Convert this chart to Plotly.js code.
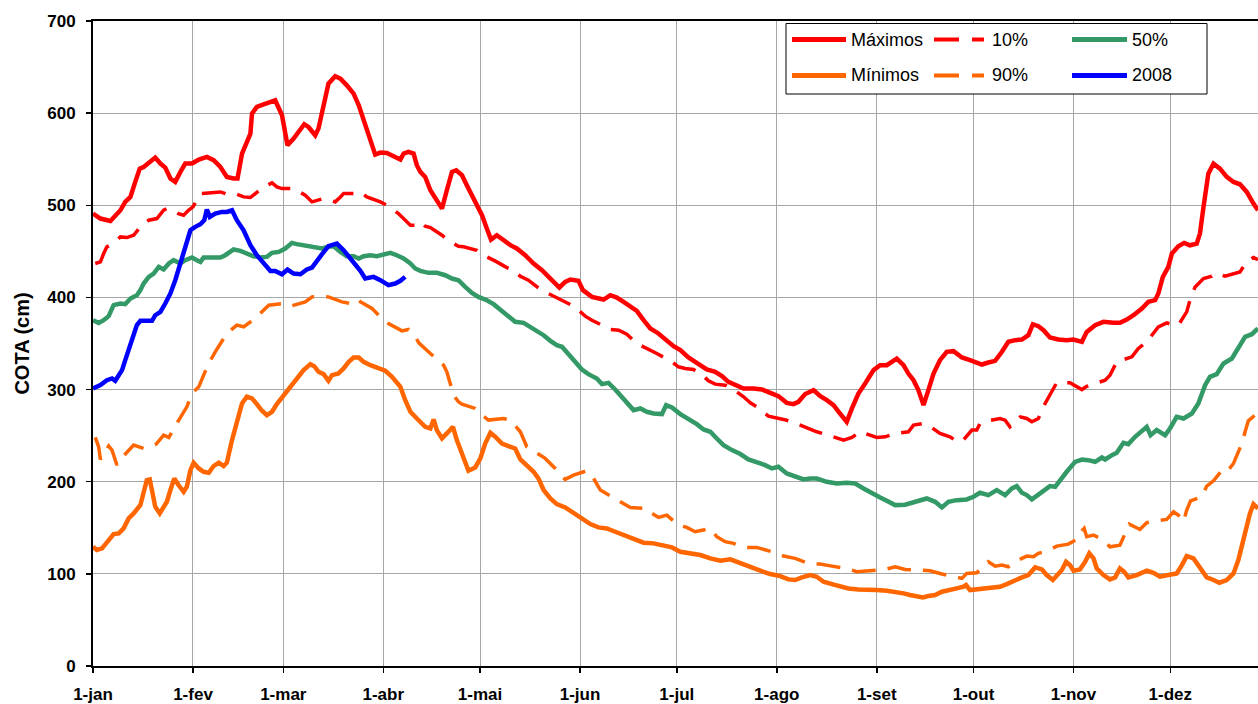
<!DOCTYPE html>
<html>
<head>
<meta charset="utf-8">
<script src="https://cdn.plot.ly/plotly-3.0.1.min.js"></script>
<style>
html,body{margin:0;padding:0;background:#fff;overflow:hidden;}
#chart{width:1258px;height:704px;}
</style>
</head>
<body>
<div id="chart"></div>
<script>
// ---- tick labels (day of year) ----
var tickDays = [0, 31, 59, 90, 120, 151, 181, 212, 243, 273, 304, 334];
var tickLabels = ['1-jan','1-fev','1-mar','1-abr','1-mai','1-jun','1-jul','1-ago','1-set','1-out','1-nov','1-dez'];

// ---- Máximos ----
var maxDays = [0,2.3,5.4,6.9,8.5,10.0,11.6,13.1,14.5,15.7,17.3,19.3,20.9,22.4,24.0,25.5,27.1,28.6,30.7,32.8,35.3,37.4,39.5,41.5,43.6,44.8,46.2,47.7,48.8,49.3,50.8,52.9,55.0,56.5,58.6,60.3,62.2,63.8,65.5,66.8,68.9,69.9,71.5,73.0,75.1,76.7,78.7,80.8,82.4,84.4,86.0,87.5,89.1,91.1,93.2,95.3,96.3,97.8,99.4,100.4,101.5,103.0,104.6,106.1,108.2,109.7,111.3,112.6,114.4,115.9,117.5,119.0,120.6,122.1,123.4,125.2,127.3,129.4,131.4,134.0,136.6,139.2,141.8,144.6,146.4,148.0,150.5,151.9,154.7,156.7,158.3,160.4,162.4,164.5,166.6,168.6,170.7,172.8,175.3,177.9,180.0,182.1,184.6,186.7,188.8,190.3,192.9,195.0,197.0,199.6,201.7,204.8,207.4,210.0,212.5,215.1,217.2,218.7,220.8,223.4,225.4,227.5,229.6,231.6,233.7,235.3,237.3,239.4,242.0,244.0,246.1,249.2,251.3,252.8,254.4,255.9,257.5,259.0,260.6,262.6,264.7,266.8,269.4,271.9,275.6,277.6,279.7,281.8,283.8,285.9,288.0,290.0,291.4,293.1,294.7,296.7,299.3,301.9,304.0,306.6,308.1,310.7,313.3,316.4,318.4,320.5,322.6,325.2,327.2,329.3,330.3,331.7,333.4,334.5,336.5,338.3,340.1,342.2,343.2,344.3,345.8,347.4,349.4,351.5,353.6,355.6,357.7,359.8,361.2];
var maxVals = [491,485.6,483,489.2,494.6,503.7,509,525.4,539.8,541.6,546,551.8,545.3,540.9,529,525.4,536.2,545.3,545.3,549.6,552.5,548.9,541.6,530.8,529,529,556.1,568.8,577.8,599.5,606.7,609.6,612.1,613.9,597.7,565.1,572.4,579.6,588,585,576,583.2,610.3,632,640,637.4,630.2,621.2,608.5,588.6,570.6,555,557.2,556.8,553.2,549.6,556.1,557.9,556.1,543.5,536.2,530.8,516.3,507.3,496.4,516.3,536.2,538,532.6,521.7,510.9,501.9,489.2,474.7,462.8,467.5,462.1,456.7,453.1,445.8,436.8,429.6,420.5,410.8,416.9,419.4,418,407.9,400.6,398.8,397.7,402.4,399.9,395.2,389.8,385.4,375.3,366.3,360.9,352.9,347.1,342.8,334.8,330.1,324.7,321.8,319.3,314.6,308.4,304.8,301.2,301.2,300.1,296.5,292.9,285.6,284.2,286.7,295.1,299.4,293,288.5,283.1,274.0,265.0,279.5,295.7,306.6,321.1,326.5,326.5,333.7,326.5,317.4,310.2,299.4,283.1,299.4,317.4,331.9,341.0,341.7,334.8,331.9,327.2,329.4,331.2,341.0,351.8,353.6,354.3,359.0,370.9,368.8,364.4,356.5,354.3,353.6,354.3,351.8,362.6,369.9,373.5,372.4,372.4,376.0,380.7,388.0,395.2,397.0,404.2,422.3,433.1,447.6,455.6,459.2,456.6,458.4,469.3,498.2,534.4,545.2,539.8,530.8,525.3,522.8,514.5,501.8,494.6];

// ---- 10% ----
var p10Days = [0.7,2.3,3.3,4.3,6.4,8.5,10.5,12.6,14.7,17.3,19.8,21.9,22.9,25.0,26.5,28.1,29.6,31.0,33.3,35.3,37.4,39.5,42.6,44.6,46.7,48.8,52.9,55.5,57.0,58.6,62.2,64.3,65.8,67.9,71.5,73.6,75.1,76.7,77.7,80.8,82.9,84.9,89.1,91.1,93.2,94.7,98.4,99.9,101.5,103.0,104.6,108.2,110.8,113.3,114.9,119.0,121.1,123.2,125.2,128.3,130.4,132.5,135.0,138.7,141.2,143.3,145.4,149.0,151.1,152.6,154.7,158.8,160.4,163.0,165.5,168.6,170.7,172.8,174.8,179.5,181.5,183.6,186.2,189.3,190.8,192.9,196.0,199.6,201.7,203.8,205.8,209.4,212.0,214.1,216.7,220.8,224.4,228.0,232.7,235.3,237.8,243.0,245.6,248.7,252.8,254.4,257.5,259.0,262.6,265.7,267.3,269.4,272.5,274.0,275.0,276.1,278.7,281.2,282.8,284.3,287.5,289.5,291.1,293.1,295.2,296.7,298.8,302.9,305.0,306.6,308.1,313.8,315.3,317.4,322.1,324.1,326.7,330.3,332.9,335.0,336.5,339.1,340.1,341.7,344.3,346.9,348.4,351.0,355.6,357.7,359.8,361.2];
var p10Vals = [436.8,438.6,447.6,454.9,458.5,465.7,465,467.5,476.6,483.8,485.6,494.6,496.4,494.6,491,489.2,494.6,498.3,512.7,513.4,513.4,514.5,510.9,512,509.1,508.4,519.9,524.3,519.9,518.1,518.1,514.5,510.9,503.7,507.3,505.5,503.7,509.1,512.7,512.7,514.5,509.1,503.7,500.1,494.6,491,478.4,478.4,482,477.3,475.8,467.5,460.3,455.6,454.9,451.2,445.8,442.2,438.6,432.4,429.6,423.0,418.7,408.6,404.2,400.6,397.0,390.5,384.4,379.7,375.3,368.1,365.2,364.5,360.1,350.0,346.4,343.5,339.2,330.1,324.7,322.9,321.8,314.6,309.5,305.9,304.8,297.6,292.2,285.6,281.3,271.2,269.7,267.6,265.0,259.6,254.2,250.5,245.1,248.0,254.2,248.0,248.7,252.4,254.2,261.4,263.2,261.4,252.4,248.7,245.1,243.3,256.0,256.0,263.2,265.0,266.8,268.6,266.8,259.6,270.4,268.6,265.0,268.6,284.9,293.9,307.5,307.5,303,300,303.5,310.2,315.6,330.1,335.5,344.6,351.8,368.1,372.4,369.9,369.9,384.3,397.0,411.4,420.5,423.0,426.6,423.0,427.7,438.6,443.3,441.1];

// ---- 50% ----
var p50Days = [0,1.75,3.3,4.85,6.4,8.5,10.0,11.6,13.6,14.7,15.7,17.3,18.8,20.4,21.9,23.5,25.0,27.1,28.6,30.7,32.2,33.3,34.3,36.4,39.5,41.0,43.6,45.7,47.7,49.8,51.9,53.9,55.5,57.6,59.6,61.7,63.2,65.3,66.8,68.9,71.0,73.0,74.6,76.7,78.7,80.8,82.4,83.9,86.0,88.0,90.1,92.2,94.2,96.3,98.4,99.9,101.5,104.0,106.6,109.2,111.3,113.3,115.4,117.5,119.5,122.1,124.2,126.3,128.8,130.9,133.5,135.6,137.6,139.7,141.8,143.8,145.4,147.4,149.5,151.6,153.6,156.2,157.8,159.8,161.9,164.0,166.0,167.6,169.7,171.7,173.8,176.4,177.7,179.5,182.1,185.2,187.2,189.3,191.4,193.4,195.5,198.1,200.7,203.2,205.8,208.4,210.5,212.5,215.1,217.7,220.3,222.4,224.4,227.5,230.6,233.7,236.3,238.9,241.5,244.05,246.1,248.7,251.8,254.9,258.5,261.1,263.2,265.2,267.8,270.9,273.0,275.0,277.6,280.2,282.8,284.9,286.4,288.0,289.5,291.1,293.1,295.2,296.7,298.3,299.8,301.9,304.5,306.6,308.6,310.7,312.8,313.8,315.9,317.4,319.5,321.0,323.1,325.2,326.7,327.9,329.8,332.4,333.9,336.0,338.1,340.7,342.7,344.8,346.3,348.4,350.5,353.1,355.1,357.2,359.3,361.2];
var p50Vals = [375.3,372.4,375.3,379.7,391.6,393.4,392.7,398.8,402.4,407.9,415.1,422.3,425.9,433.2,430.3,436.8,440.4,436.8,440.4,443.3,440.4,438.6,443.3,443.3,443.3,445.8,452,450.5,447.6,444.7,443.3,444,448.4,449.4,453.1,459.2,457.8,456.7,454.9,454.9,453.1,454.9,455.6,449.4,444.7,444.7,442.2,444.7,445.8,444.7,446.9,448.4,445.8,442.2,436.8,431.4,428.8,426.7,426.7,424.1,420.5,418.7,411.5,405.0,400.6,397.0,392.7,386.9,380.7,373.5,372.4,368.1,364.5,359.0,352.9,348.2,346.4,338.4,329.0,321.8,316.7,312.0,305.9,307.3,300.1,291.4,283.1,277.7,279.5,275.9,274.1,273.4,283.1,280.6,273.4,267.6,262.5,256.7,254.2,246.9,239.7,234.3,230.0,224.2,221.7,218.0,214.4,216.2,209.0,205.4,202.5,203.6,203.5,199.9,198.1,198.8,198.1,192.7,187.3,182.9,179.3,174.6,175.0,178.2,181.8,178.2,172.1,178.2,180.0,180.8,183.7,188.0,185.5,190.9,185.5,192.7,195.2,188.0,185.5,180.8,185.5,190.9,195.2,194.5,201.7,210.8,221.6,224.1,223.4,221.6,226.3,224.1,228.8,231.4,242.2,240.8,248.7,255.2,259.6,250.5,256.0,250.5,257.8,270.4,268.6,274.0,284.9,304.8,313.8,316.7,328.3,333.7,346.4,357.2,360.1,366.3];

// ---- 90% ----
var p90Days = [0.7,1.75,2.3,4.85,5.9,7.4,9.7,12.6,15.7,19.6,21.9,23.5,26.0,29.1,30.7,32.8,34.3,35.9,37.9,41.5,44.6,46.7,48.8,50.8,54.5,57.0,59.1,61.2,65.8,67.9,70.5,73.0,77.2,79.8,81.8,82.9,86.5,89.1,91.6,95.8,97.8,99.4,101.0,104.6,106.6,108.7,109.7,110.8,111.8,113.3,114.4,118.5,120.6,122.6,124.2,127.3,129.4,130.9,132.5,134.5,136.1,138.1,140.2,143.3,144.9,146.4,149.0,153.1,155.2,157.3,160.9,163.5,166.6,171.7,173.3,175.3,177.9,181.5,184.1,186.7,191.4,193.4,196.0,198.6,199.6,202.7,205.8,210.5,214.1,217.7,221.8,225.4,229.1,233.7,236.8,240.9,245.6,248.7,251.8,255.9,259.5,263.2,267.3,269.4,270.9,274.0,277.6,279.7,281.8,283.8,286.9,289.5,291.6,293.1,296.5,298.8,302.4,305.5,306.6,307.3,308.1,310.2,312.8,315.3,318.4,320.0,321.3,324.6,326.7,328.2,331.4,332.9,335.0,336.5,338.1,339.1,340.3,343.8,345.3,347.4,350.5,352.0,353.6,354.6,356.2,357.2,358.2,361.2];
var p90Vals = [248.1,237.9,224.2,238.7,234.3,218.1,228.9,239.8,236.1,240.8,250.6,248.1,263.3,281.3,295.8,303,315.7,328.3,341,360.9,369.9,368.1,373.5,379,391.6,392.7,393.4,390.5,395.2,400.6,401.4,400.6,395.2,393.4,398.1,395.2,388,379,371.7,363.7,365.2,360.9,350.7,339.2,332.6,326.5,319.3,304.8,294.0,286.7,284.2,279.5,272.3,266.9,267.6,268.6,266.9,261.4,254.2,237.9,233.6,230.0,225.3,214.4,207.2,202.5,207.2,211.9,203.6,191.0,183.0,178.3,172.1,171.0,165.6,161.3,163.8,153.0,150.4,145.7,149.3,140.3,134.9,133.1,131.3,128.7,128.7,124.0,119.3,116.8,111.3,110.6,108.4,105.9,102.3,103.4,104.8,107.7,104.8,104.1,103.4,99.8,96.2,95.1,100.5,101.2,113.1,108.4,109.5,107.7,114.9,119.3,118.6,122.2,125.8,130.1,132.3,138.5,146.8,149.3,140.3,142.1,137.4,129.4,131.2,143.2,154.0,148.2,155.5,156.5,158.3,159.1,167.4,163.8,156.5,169.2,179.3,183.6,195.2,201.0,214.4,212.6,219.8,227.8,241.5,254.2,266.1,275];

// ---- Mínimos ----
var minDays = [0,1.2,2.8,4.3,6.4,8.0,9.5,11.05,12.6,14.7,15.7,16.7,17.6,18.3,19.3,20.7,21.9,22.9,24.0,25.2,26.5,28.1,29.1,30.2,31.2,32.8,34.3,35.9,37.4,39.0,40.5,41.5,43.1,44.6,46.2,47.7,49.3,50.8,52.4,53.9,55.5,57.0,59.1,61.2,63.2,65.3,67.4,68.6,69.9,71.5,73.0,74.1,76.1,77.7,79.3,80.8,82.4,83.9,86.0,88.0,90.6,92.7,94.2,95.3,96.8,98.4,100.4,103.0,104.6,105.6,106.6,108.2,109.7,111.6,112.8,114.4,116.4,118.5,120.1,121.6,123.2,124.7,126.8,128.8,130.9,132.5,134.5,136.6,138.1,139.7,141.8,143.8,146.4,149.0,151.6,154.2,156.7,159.3,161.9,164.5,167.6,170.7,173.8,176.9,179.5,182.1,185.2,188.3,191.4,194.5,197.6,200.7,203.8,206.9,210.0,213.1,215.6,217.7,219.8,222.4,224.4,226.5,229.1,231.6,234.2,237.3,240.4,243.0,246.1,249.2,251.3,253.3,255.4,257.3,259.0,261.1,263.2,265.7,267.8,269.9,270.7,271.9,274.0,276.1,278.7,281.2,283.3,285.4,288.0,290.0,292.1,294.2,295.7,297.6,299.3,300.4,301.7,302.9,304.0,306.0,307.6,308.9,310.2,311.2,313.3,315.3,316.9,318.4,319.7,321.0,323.6,326.7,328.8,330.8,333.4,336.0,337.6,339.1,341.2,343.2,345.3,347.4,349.2,351.5,353.6,355.1,357.2,358.7,359.8,361.2];
var minVals = [129.5,125.9,127.7,134.9,143.2,143.9,149.4,160.2,165.6,174.7,187.3,201.8,202.5,191,172.9,165.6,172.9,178.3,191,203.6,196.4,189.1,194.6,212.6,220.6,214.4,210.8,209.7,217,220.6,217,220.6,245.2,265.1,285,292.2,290.4,284.2,277,272.3,275.9,284.2,294,303,312.1,321.1,327.6,325.4,319.3,316.8,309.5,315.7,317.5,322.9,330.1,334.8,334.8,330.1,326.5,324,320.4,313.9,306.6,303.0,288.5,275.9,268.6,259.6,257.8,267.6,256.0,247.0,252.4,259.6,245.2,228.9,211.9,215.5,225.3,241.5,253.1,248.8,241.5,238.6,236.1,224.2,218.0,210.8,203.6,191.0,181.9,175.7,172.1,165.6,159.1,154.0,150.4,149.3,145.7,142.1,137.4,133.8,133.1,130.2,128.7,124.0,122.2,120.4,116.8,114.3,115.7,111.4,107.0,103.4,99.8,97.6,94.0,93.3,96.2,98.7,96.9,91.5,88.9,86.8,84.2,83.1,83.1,82.4,81.7,80.6,78.8,77.0,75.9,74.5,75.9,77.0,80.6,83.1,84.2,86.0,87.8,82.4,83.1,84.2,85.3,86.0,88.9,92.5,96.2,98.7,107.0,104.8,98.7,93.3,100.5,104.1,113.1,109.5,103.4,104.8,113.1,122.2,116.8,105.9,98.7,94.0,96.2,105.9,102.3,96.2,98.7,103.4,101.2,96.9,98.7,100.5,109.5,119.3,116.8,107.7,96.2,93.3,90.4,93.3,100.5,115.0,143.9,165.6,175.7,171.0];

// ---- 2008 ----
var y2008Days = [0,2.3,4.3,5.9,6.9,8.0,9.0,10.0,11.05,12.6,13.6,14.7,16.7,18.3,19.3,20.9,22.4,24.0,25.5,27.1,28.6,30.2,31.7,33.3,34.5,35.3,36.2,37.9,40.0,41.5,43.1,44.6,46.7,48.8,50.8,52.9,55.0,56.5,58.6,60.3,62.2,64.3,66.3,67.9,69.4,71.0,73.0,75.6,77.7,79.3,80.8,82.9,84.4,87.0,89.1,91.6,93.7,95.3,96.8];
var y2008Vals = [301.2,304.8,310.2,312.1,309.5,315.7,321.1,331.9,342.8,362.7,369.9,374.6,374.6,374.6,380.7,384.4,393.4,404.3,418.7,436.8,456.7,472.9,476.6,479.4,483.8,495.4,487.4,491,492.8,492.8,494.6,483.8,472.9,456.7,445.8,436.8,428.8,428.8,425.2,430.3,425.9,425.2,430.3,432.4,440.4,446.9,455.6,458.5,451.3,444.7,437.5,428.8,420.5,422.3,418.7,413.3,415.1,418,422.3];

var seriesNames = ['Máximos', '10%', '50%', 'Mínimos', '90%', '2008'];

// ---- styles ----
var RED = '#ff0000', ORANGE = '#ff6600', GREEN = '#339966', BLUE = '#0000ff';
var DASH = '24px,12px';
var styles = [
  {color: RED, width: 4.5, dash: 'solid'},
  {color: RED, width: 3.5, dash: DASH},
  {color: GREEN, width: 4.5, dash: 'solid'},
  {color: ORANGE, width: 4.5, dash: 'solid'},
  {color: ORANGE, width: 3.5, dash: DASH},
  {color: BLUE, width: 4.5, dash: 'solid'}
];
var xs = [maxDays, p10Days, p50Days, minDays, p90Days, y2008Days];
var ys = [maxVals, p10Vals, p50Vals, minVals, p90Vals, y2008Vals];
var drawOrder = [4, 3, 1, 0, 2, 5];

var traces = drawOrder.map(function (i) {
  return {
    type: 'scatter', mode: 'lines', name: seriesNames[i],
    x: xs[i], y: ys[i],
    line: {color: styles[i].color, width: styles[i].width, dash: styles[i].dash},
    hoverinfo: 'skip', showlegend: false
  };
});

// ---- layout geometry ----
var W = 1258, H = 704, ML = 93, MR = 0, MT = 21, MB = 38;
var PW = W - ML - MR, PH = H - MT - MB;
function px(x) { return (x - ML) / PW; }
function py(y) { return (H - MB - y) / PH; }

var FONT = 'Liberation Sans, Arial, sans-serif';

// manual legend (3 columns x 2 rows)
var shapes = [{
  type: 'rect', xref: 'paper', yref: 'paper',
  x0: px(786), x1: px(1207), y0: py(94), y1: py(23.5),
  line: {color: '#000000', width: 1}, fillcolor: '#ffffff', layer: 'above'
}];
var annotations = [];
var colSample = [[792, 846], [934, 984], [1072, 1127]];
var colText = [849, 990, 1130];
var rowY = [39.5, 75.5];
seriesNames.forEach(function (name, i) {
  var r = Math.floor(i / 3), c = i % 3;
  var st = styles[i];
  shapes.push({
    type: 'line', xref: 'paper', yref: 'paper', layer: 'above',
    x0: px(colSample[c][0]), x1: px(colSample[c][1]), y0: py(rowY[r]), y1: py(rowY[r]),
    line: {color: st.color, width: st.dash === 'solid' ? 5 : 4, dash: st.dash === 'solid' ? 'solid' : '25px,13px'}
  });
  annotations.push({
    xref: 'paper', yref: 'paper', x: px(colText[c]), y: py(rowY[r]),
    xanchor: 'left', yanchor: 'middle', showarrow: false, text: name,
    font: {family: FONT, size: 18, color: '#000000'}
  });
});

var layout = {
  width: W, height: H,
  margin: {l: ML, r: MR, t: MT, b: MB, pad: 0},
  paper_bgcolor: '#ffffff', plot_bgcolor: '#ffffff',
  showlegend: false,
  font: {family: FONT, color: '#000000'},
  xaxis: {
    range: [0, 361.2], tickmode: 'array', tickvals: tickDays, ticktext: tickLabels,
    showgrid: true, gridcolor: '#a6a6a6', gridwidth: 1,
    zeroline: false, showline: true, linecolor: '#000000', linewidth: 2, mirror: true,
    ticks: 'outside', ticklen: 5, tickwidth: 1.5, tickcolor: '#000000',
    ticklabelstandoff: 7,
    tickfont: {family: FONT, size: 17, weight: 'bold', color: '#000000'},
    fixedrange: true
  },
  yaxis: {
    range: [0, 700], tickmode: 'array', tickvals: [0,100,200,300,400,500,600,700],
    showgrid: true, gridcolor: '#a6a6a6', gridwidth: 1,
    zeroline: false, showline: true, linecolor: '#000000', linewidth: 2,
    ticks: 'outside', ticklen: 5, tickwidth: 1.5, tickcolor: '#000000',
    ticklabelstandoff: 7,
    tickfont: {family: FONT, size: 17, weight: 'bold', color: '#000000'},
    title: {text: 'COTA (cm)', font: {family: FONT, size: 20, weight: 'bold', color: '#000000'}, standoff: 12},
    fixedrange: true
  },
  shapes: shapes,
  annotations: annotations
};

Plotly.newPlot('chart', traces, layout, {displayModeBar: false, staticPlot: true});
</script>
</body>
</html>
